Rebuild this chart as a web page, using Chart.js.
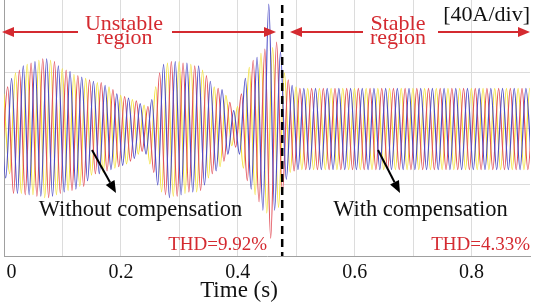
<!DOCTYPE html>
<html>
<head>
<meta charset="utf-8">
<script src="https://cdn.jsdelivr.net/npm/chart.js@4.4.1/dist/chart.umd.min.js"></script>
<style>
  html, body { margin: 0; padding: 0; background: #fff; }
  #wrap { width: 533px; height: 303px; }
</style>
</head>
<body>
<div id="wrap"><canvas id="waves" width="533" height="303"></canvas></div>
<script>
// three-phase currents, one value per half cycle (peak, trough, ...), in A
const halfCycle = 0.01 // s (50 Hz)
const phaseLabels = ['ia', 'ib', 'ic']
const phaseStart = [-0.007, -0.00367, -0.00033] // time of first extreme (s)

const iaExtremes = [
  25, -35, 36, -46, 45, -47, 48, -48, 50, -48, 45, -45, 41, -43, 37, -37, 34, -32,
  31, -29, 25, -26, 22, -21, 18, -18, 21, -40, 46, -49, 48, -47, 47, -45, 45, -40,
  34, -30, 28, -18, 13, -18, 36, -43, 51, -58, 89, -58, 55, -36, 31, -29, 29, -29,
  29, -29, 29, -29, 29, -29, 29, -29, 29, -29, 29, -29, 29, -29, 29, -29, 29, -29,
  29, -29, 29, -29, 29, -29, 29, -29, 29, -29, 29, -29, 29, -29, 29, -29, 29, -29,
  29, -29,
]
const ibExtremes = [
  -25, 30, -46, 42, -47, 47, -48, 50, -49, 48, -46, 42, -44, 38, -41, 35, -32, 33,
  -30, 28, -27, 23, -23, 20, -16, 16, -31, 40, -47, 48, -48, 47, -45, 45, -44, 38,
  -32, 29, -23, 19, -13, 25, -37, 49, -52, 57, -78, 62, -45, 35, -30, 29, -29, 29,
  -29, 29, -29, 29, -29, 29, -29, 29, -29, 29, -29, 29, -29, 29, -29, 29, -29, 29,
  -29, 29, -29, 29, -29, 29, -29, 29, -29, 29, -29, 29, -29, 29, -29, 29, -29, 29,
  -29, 29,
]
const icExtremes = [
  25, -32, 40, -46, 46, -47, 49, -49, 49, -47, 43, -44, 39, -41, 36, -33, 33, -31,
  30, -28, 24, -25, 21, -18, 17, -25, 30, -45, 47, -48, 48, -46, 46, -45, 42, -35,
  30, -27, 24, -12, 16, -28, 44, -47, 54, -60, 58, -56, 40, -31, 30, -29, 29, -29,
  29, -29, 29, -29, 29, -29, 29, -29, 29, -29, 29, -29, 29, -29, 29, -29, 29, -29,
  29, -29, 29, -29, 29, -29, 29, -29, 29, -29, 29, -29, 29, -29, 29, -29, 29, -29,
  29, -29,
]

const xTicks = [0, 0.9, 0.1] // min, max, step (s)
const yGrid = [-40, 0, 40] // A, 40A/div
const yRange = [-90.7, 92]
const switchTime = 0.476 // compensation switched on (s)
const thdLabels = ['THD=9.92%', 'THD=4.33%']

const serif = "'Liberation Serif', 'Times New Roman', serif"
const red = '#d42a30'

const toPoints = (vals, t0) => vals.map((v, j) => ({ x: t0 + j * halfCycle, y: v }))

function arrow(ctx, x1, y1, x2, y2, color, head, half, width) {
  const a = Math.atan2(y2 - y1, x2 - x1)
  const bx = x2 - head * Math.cos(a)
  const by = y2 - head * Math.sin(a)
  ctx.strokeStyle = color
  ctx.fillStyle = color
  ctx.lineWidth = width
  ctx.beginPath()
  ctx.moveTo(x1, y1)
  ctx.lineTo(bx, by)
  ctx.stroke()
  ctx.beginPath()
  ctx.moveTo(x2, y2)
  ctx.lineTo(bx + half * Math.sin(a), by - half * Math.cos(a))
  ctx.lineTo(bx - half * Math.sin(a), by + half * Math.cos(a))
  ctx.closePath()
  ctx.fill()
}

function text(ctx, str, x, y, size, color, align) {
  ctx.font = `${size}px ${serif}`
  ctx.fillStyle = color
  ctx.textAlign = align || 'center'
  ctx.textBaseline = 'alphabetic'
  ctx.fillText(str, x, y)
}

const overlay = {
  id: 'overlay',
  afterDatasetsDraw(chart) {
    const { ctx, chartArea } = chart
    const bx = chart.scales.x.getPixelForValue(switchTime)
    ctx.save()

    ctx.strokeStyle = '#000'
    ctx.lineWidth = 2.5
    ctx.setLineDash([8, 5])
    ctx.beginPath()
    ctx.moveTo(bx, chartArea.top + 5)
    ctx.lineTo(bx, chartArea.bottom)
    ctx.stroke()
    ctx.setLineDash([])

    // region labels
    arrow(ctx, 78, 32, 2, 32, red, 12, 5, 2)
    arrow(ctx, 172, 32, 276, 32, red, 12, 5, 2)
    arrow(ctx, 363, 32, 290, 32, red, 12, 5, 2)
    arrow(ctx, 438, 32, 530, 32, red, 12, 5, 2)
    text(ctx, 'Unstable', 124, 30, 22, red)
    text(ctx, 'region', 124.5, 44, 22, red)
    text(ctx, 'Stable', 398, 30, 22, red)
    text(ctx, 'region', 398, 44, 22, red)
    text(ctx, '[40A/div]', 530, 21, 22, '#111', 'right')

    arrow(ctx, 92, 150, 116, 193, '#000', 12, 5, 2)
    arrow(ctx, 378, 150, 400, 193, '#000', 12, 5, 2)
    text(ctx, 'Without compensation', 140.5, 216, 22.5, '#111')
    text(ctx, 'With compensation', 420.5, 216, 22.5, '#111')
    text(ctx, thdLabels[0], 267, 250, 19, red, 'right')
    text(ctx, thdLabels[1], 530, 250, 19, red, 'right')

    text(ctx, 'Time (s)', 239, 297, 23, '#111')
    ctx.restore()
  },
}

const line = (label, vals, t0, color) => ({
  label,
  data: toPoints(vals, t0),
  borderColor: color,
  borderWidth: 1.2,
  pointRadius: 0,
  fill: false,
  cubicInterpolationMode: 'monotone',
})

new Chart(document.getElementById('waves'), {
  type: 'line',
  data: {
    datasets: [
      line(phaseLabels[0], iaExtremes, phaseStart[0], '#4c4cc6'),
      line(phaseLabels[1], ibExtremes, phaseStart[1], '#e2505a'),
      line(phaseLabels[2], icExtremes, phaseStart[2], '#f2e03a'),
    ],
  },
  options: {
    responsive: false,
    animation: false,
    events: [],
    layout: { padding: { left: 4, right: 3, top: 0, bottom: 13 } },
    plugins: { legend: { display: false }, tooltip: { enabled: false } },
    scales: {
      x: {
        type: 'linear',
        min: xTicks[0],
        max: xTicks[1],
        afterFit: (axis) => { axis.paddingLeft = 0; axis.paddingRight = 0 },
        ticks: {
          stepSize: xTicks[2],
          autoSkip: false,
          maxRotation: 0,
          padding: 7,
          color: '#111',
          font: { family: serif, size: 20, lineHeight: 1 },
          callback: (v) => {
            const k = Math.round(v * 10)
            if (k % 2 !== 0) return ''
            return k === 0 ? '\u2002 0' : (k / 10).toFixed(1)
          },
        },
        grid: {
          drawTicks: false,
          color: (c) => (c.tick && Math.abs(c.tick.value - xTicks[1]) < 1e-6 ? 'rgba(0,0,0,0)' : '#dcdcdc'),
        },
        border: { color: '#a0a0a0' },
      },
      y: {
        min: yRange[0],
        max: yRange[1],
        afterBuildTicks: (axis) => { axis.ticks = yGrid.map((v) => ({ value: v })) },
        ticks: { display: false },
        grid: { drawTicks: false, color: '#dcdcdc' },
        border: { color: '#a0a0a0' },
      },
    },
  },
  plugins: [overlay],
})
</script>
</body>
</html>
